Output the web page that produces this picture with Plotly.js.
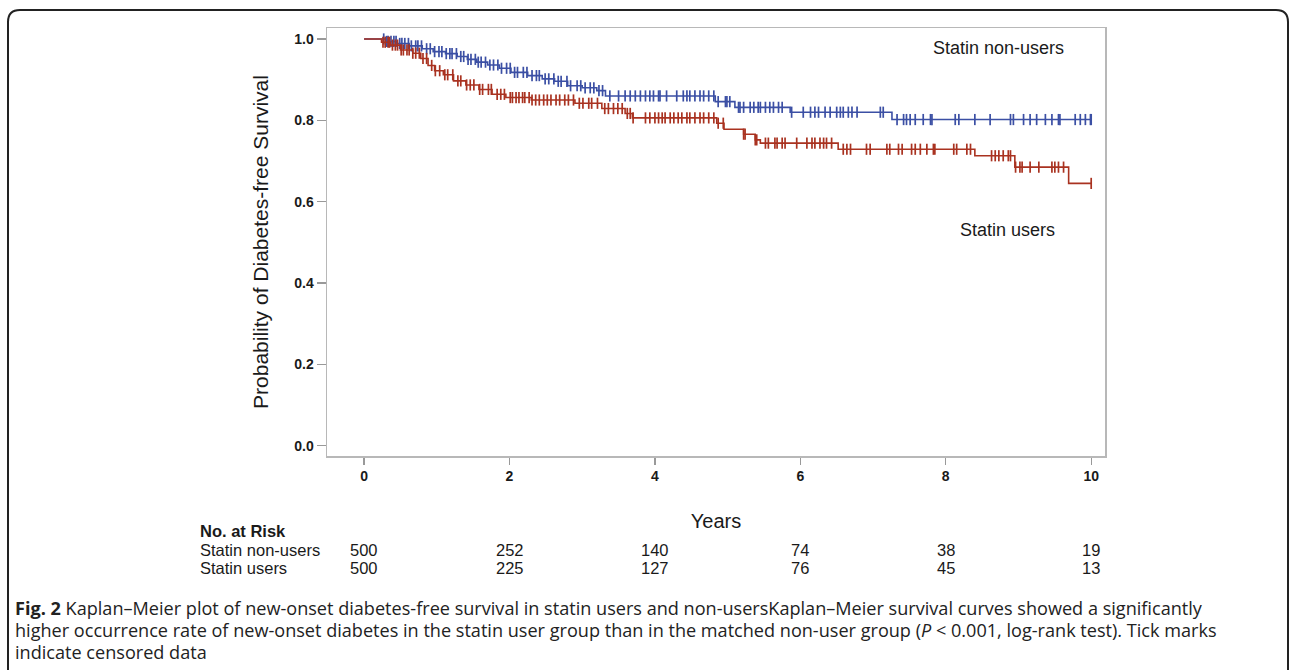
<!DOCTYPE html>
<html>
<head>
<meta charset="utf-8">
<script src="https://cdn.plot.ly/plotly-3.0.1.min.js"></script>
<style>
html,body{margin:0;padding:0;background:#fff;}
#chart{width:1292px;height:670px;}
</style>
</head>
<body>
<div id="chart"></div>
<script>
// ---- Data ----
// Kaplan–Meier step points (time in years, survival probability)
const nonUserTimes = [0, 0.30, 0.45, 0.62, 0.80, 0.95, 1.12, 1.28, 1.42, 1.55, 1.70, 1.86, 2.02, 2.25, 2.45, 2.62, 2.80, 3.00, 3.20, 3.32, 4.83, 5.10, 5.86, 7.26, 10.0];
const nonUserSurv  = [1.0, 0.994, 0.989, 0.983, 0.976, 0.969, 0.964, 0.957, 0.950, 0.943, 0.936, 0.928, 0.918, 0.910, 0.902, 0.896, 0.885, 0.880, 0.873, 0.860, 0.846, 0.832, 0.820, 0.802, 0.802];

const userTimes = [0, 0.24, 0.36, 0.50, 0.67, 0.78, 0.88, 0.97, 1.09, 1.23, 1.40, 1.58, 1.76, 1.95, 2.30, 2.90, 3.27, 3.59, 3.69, 4.85, 4.95, 5.22, 5.38, 5.45, 6.52, 8.40, 8.95, 9.69, 10.0];
const userSurv  = [1.0, 0.992, 0.985, 0.973, 0.965, 0.952, 0.935, 0.922, 0.912, 0.897, 0.887, 0.876, 0.864, 0.856, 0.850, 0.842, 0.829, 0.817, 0.806, 0.793, 0.778, 0.766, 0.752, 0.744, 0.729, 0.713, 0.685, 0.645, 0.645];

// Censoring times (tick marks)
const nonUserCensor = [0.27,0.31,0.33,0.37,0.41,0.44,0.49,0.52,0.56,0.61,0.65,0.71,0.74,0.79,0.86,0.91,0.97,1.03,1.07,1.13,1.18,1.21,1.27,1.33,1.37,1.43,1.47,1.53,1.57,1.61,1.67,1.73,1.78,1.84,1.89,1.96,2.01,2.07,2.11,2.19,2.24,2.31,2.37,2.41,2.49,2.54,2.61,2.67,2.71,2.79,2.84,2.93,2.98,3.04,3.11,3.16,3.23,3.28,3.38,3.50,3.59,3.66,3.73,
  3.80,3.87,3.93,3.98,4.05,4.07,4.16,4.30,4.39,4.44,4.48,4.55,4.62,4.67,4.74,4.81,4.87,4.97,4.99,5.03,5.15,5.17,5.22,5.31,5.36,5.42,5.45,5.52,5.58,5.63,5.70,5.75,5.88,6.04,6.14,6.20,6.25,6.34,6.41,6.50,6.55,6.59,6.66,6.71,6.78,7.10,7.14,7.33,7.42,7.46,7.51,7.58,7.69,7.79,7.81,8.13,8.18,8.40,8.61,8.89,8.93,9.07,9.16,9.25,9.37,9.46,9.55,9.57,9.78,9.85,9.92,9.99,10.0];

const userCensor = [0.26,0.29,0.33,0.35,0.39,0.43,0.46,0.51,0.54,0.59,0.62,0.67,0.71,0.76,0.81,0.86,0.93,0.98,1.04,1.11,1.15,1.22,1.29,1.33,1.41,1.46,1.51,1.59,1.63,1.71,1.75,1.83,1.88,1.93,2.01,2.04,2.09,2.13,2.18,2.21,2.27,2.31,2.36,2.41,2.47,2.52,2.57,2.64,2.69,2.76,2.81,2.88,2.96,3.01,3.09,3.13,3.21,3.31,3.36,3.43,3.49,3.55,3.62,3.66,
  3.70,3.87,3.93,4.00,4.05,4.10,4.14,4.21,4.26,4.32,4.37,4.44,4.48,4.55,4.62,4.67,4.74,4.81,4.87,4.94,5.22,5.24,5.38,5.40,5.52,5.56,5.65,5.68,5.75,5.79,5.95,6.09,6.16,6.20,6.27,6.32,6.36,6.43,6.59,6.64,6.69,6.91,6.96,7.19,7.23,7.35,7.40,7.53,7.58,7.65,7.74,7.83,7.85,8.11,8.15,8.29,8.34,8.63,8.68,8.73,8.79,8.86,8.89,8.96,9.02,9.05,9.16,9.28,9.46,9.50,9.55,9.62,10.0];

// Number at risk table
const riskYears = [0, 2, 4, 6, 8, 10];
const riskNonUsers = [500, 252, 140, 74, 38, 19];
const riskUsers = [500, 225, 127, 76, 45, 13];

const xTicks = [0, 2, 4, 6, 8, 10];
const yTicks = [0, 0.2, 0.4, 0.6, 0.8, 1.0];
const yTickText = ['0.0', '0.2', '0.4', '0.6', '0.8', '1.0'];

const groupLabels = ['Statin non-users', 'Statin users'];
const captionLines = [
  '<b>Fig. 2</b> Kaplan–Meier plot of new-onset diabetes-free survival in statin users and non-usersKaplan–Meier survival curves showed a significantly',
  'higher occurrence rate of new-onset diabetes in the statin user group than in the matched non-user group (<i>P</i> &lt; 0.001, log-rank test). Tick marks',
  'indicate censored data'
];

// ---- Styling / layout ----
const BLUE = '#3b4fa4';
const RED = '#a93220';
const W = 1292, H = 670;
const L = 327, R = 1105, T = 28, B = 456;
const px = x => (x - L) / (R - L);
const py = y => (B - y) / (B - T);

function survAt(times, surv, t) {
  let s = surv[0];
  for (let i = 0; i < times.length; i++) { if (times[i] <= t) s = surv[i]; }
  return s;
}

const traces = [
  {x: nonUserTimes, y: nonUserSurv, mode: 'lines', line: {shape: 'hv', color: BLUE, width: 1.6}, hoverinfo: 'skip', showlegend: false},
  {x: nonUserCensor, y: nonUserCensor.map(t => survAt(nonUserTimes, nonUserSurv, t)), mode: 'markers',
   marker: {symbol: 'line-ns-open', size: 8, color: BLUE, line: {color: BLUE, width: 1.7}}, hoverinfo: 'skip', showlegend: false},
  {x: userTimes, y: userSurv, mode: 'lines', line: {shape: 'hv', color: RED, width: 1.6}, hoverinfo: 'skip', showlegend: false},
  {x: userCensor, y: userCensor.map(t => survAt(userTimes, userSurv, t)), mode: 'markers',
   marker: {symbol: 'line-ns-open', size: 8, color: RED, line: {color: RED, width: 1.7}}, hoverinfo: 'skip', showlegend: false}
];

const TXT = '#1a1a1a';
const FONT = '"Liberation Sans", Arial, sans-serif';
const annotations = [];

annotations.push({xref: 'paper', yref: 'paper', x: px(1066), y: py(48), xanchor: 'right', yanchor: 'middle',
  text: groupLabels[0], showarrow: false, font: {family: FONT, size: 18, color: TXT}});
annotations.push({xref: 'paper', yref: 'paper', x: px(958), y: py(230), xanchor: 'left', yanchor: 'middle',
  text: groupLabels[1], showarrow: false, font: {family: FONT, size: 18, color: TXT}});

// risk table
annotations.push({xref: 'paper', yref: 'paper', x: px(198), y: py(531), xanchor: 'left', yanchor: 'middle',
  text: '<b>No. at Risk</b>', showarrow: false, font: {family: FONT, size: 16.5, color: TXT}});
annotations.push({xref: 'paper', yref: 'paper', x: px(198), y: py(550), xanchor: 'left', yanchor: 'middle',
  text: groupLabels[0], showarrow: false, font: {family: FONT, size: 16.5, color: TXT}});
annotations.push({xref: 'paper', yref: 'paper', x: px(198), y: py(568), xanchor: 'left', yanchor: 'middle',
  text: groupLabels[1], showarrow: false, font: {family: FONT, size: 16.5, color: TXT}});
riskYears.forEach((yr, i) => {
  annotations.push({xref: 'x', yref: 'paper', x: yr, y: py(550), xanchor: 'center', yanchor: 'middle',
    text: String(riskNonUsers[i]), showarrow: false, font: {family: FONT, size: 16.5, color: TXT}});
  annotations.push({xref: 'x', yref: 'paper', x: yr, y: py(568), xanchor: 'center', yanchor: 'middle',
    text: String(riskUsers[i]), showarrow: false, font: {family: FONT, size: 16.5, color: TXT}});
});

// caption
const capY = [608, 630, 652];
captionLines.forEach((ln, i) => {
  annotations.push({xref: 'paper', yref: 'paper', x: px(13), y: py(capY[i]), xanchor: 'left', yanchor: 'middle',
    text: ln, showarrow: false, align: 'left', font: {family: '"Open Sans", sans-serif', size: 18.1, color: '#222'}});
});

// outer rounded border
const bl = 8, bt = 10, br = 1288, bb = 700, rad = 12;
const rx = rad / (R - L), ry = rad / (B - T);
const borderPath = `M ${px(bl)} ${py(bb)} L ${px(bl)} ${py(bt) - ry} Q ${px(bl)} ${py(bt)} ${px(bl) + rx} ${py(bt)} ` +
  `L ${px(br) - rx} ${py(bt)} Q ${px(br)} ${py(bt)} ${px(br)} ${py(bt) - ry} L ${px(br)} ${py(bb)}`;

const layout = {
  width: W, height: H,
  margin: {l: L, r: W - R, t: T, b: H - B, pad: 0},
  paper_bgcolor: '#fff', plot_bgcolor: '#fff',
  showlegend: false,
  font: {family: FONT, color: TXT},
  xaxis: {
    range: [-0.51, 10.19], tickvals: xTicks, ticktext: xTicks.map(String),
    showgrid: false, zeroline: false, showline: true, mirror: true, linecolor: '#b8b8b8', linewidth: 1.5,
    ticks: 'outside', ticklen: 7, tickwidth: 1.2, tickcolor: '#999',
    tickfont: {family: FONT, size: 14, color: TXT, weight: 'bold'},
    title: {text: 'Years', font: {family: FONT, size: 20, color: TXT}, standoff: 30}
  },
  yaxis: {
    range: [-0.025, 1.027], tickvals: yTicks, ticktext: yTickText,
    showgrid: false, zeroline: false, showline: true, mirror: true, linecolor: '#b8b8b8', linewidth: 1.5,
    ticks: 'outside', ticklen: 9, tickwidth: 1.2, tickcolor: '#999',
    tickfont: {family: FONT, size: 14, color: TXT, weight: 'bold'},
    title: {text: 'Probability of Diabetes-free Survival', font: {family: FONT, size: 21, color: TXT}, standoff: 20}
  },
  annotations: annotations,
  shapes: [{type: 'path', xref: 'paper', yref: 'paper', path: borderPath, line: {color: '#222', width: 2}, layer: 'above'}]
};

Plotly.newPlot('chart', traces, layout, {displayModeBar: false, staticPlot: true});
</script>
</body>
</html>
